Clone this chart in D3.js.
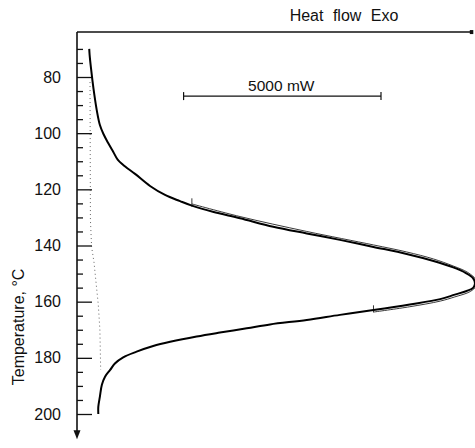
<!DOCTYPE html>
<html>
<head>
<meta charset="utf-8">
<script src="https://cdn.jsdelivr.net/npm/d3@7"></script>
<style>
  html, body { margin: 0; padding: 0; background: #fff; }
  svg { display: block; }
  text { font-family: "Liberation Sans", Arial, sans-serif; fill: #111; }
</style>
</head>
<body>
<svg id="chart" width="475" height="448"></svg>
<script>
// ---- Data (temperature in °C, heat flow in mW) ----
const measuredHeatFlow = [310, 320, 350, 390, 440, 500, 580, 670, 790, 920, 1030, 1220, 1470, 1850, 2230, 2610, 2910, 3440, 4130, 4970, 5820, 6660, 7510, 8350, 9030, 9530, 9850, 10030, 10080, 10040, 9870, 9570, 9200, 8430, 7510, 6660, 5820, 4890, 4300, 3620, 3030, 2360, 1930, 1510, 1170, 960, 840, 710, 630, 580, 540, 540];
const measuredTemp = [70.0, 72.2, 76.3, 81.1, 86.4, 91.8, 97.1, 100.3, 103.5, 106.7, 109.4, 111.9, 114.5, 118.8, 122.0, 124.2, 125.8, 128.0, 130.3, 133.3, 135.7, 138.0, 140.5, 143.0, 145.5, 147.8, 149.8, 151.6, 153.4, 155.0, 156.2, 157.5, 159.1, 161.0, 163.0, 164.7, 166.5, 168.1, 169.5, 171.0, 172.4, 174.3, 175.8, 177.8, 179.8, 182.0, 184.3, 186.7, 189.6, 193.8, 197.4, 200.0];

const fitHeatFlow = [2910, 4130, 5820, 7510, 8350, 9030, 9530, 9900, 10110, 10110, 9960, 9570, 9200, 8430, 7510];
const fitTemp = [125.2, 129.7, 135.0, 139.8, 142.3, 144.8, 147.3, 149.6, 152.3, 154.4, 156.4, 158.3, 159.8, 161.8, 163.7];

// integration limit marks: heat flow, temperature from, temperature to
const limitHeatFlow = [2910, 7510];
const limitTempFrom = [123.2, 161.3];
const limitTempTo = [126.2, 163.8];

const baselineHeatFlow = [330, 340, 370, 430, 540, 580, 600];
const baselineTemp = [81.8, 130.9, 140.5, 145.9, 161.2, 170.1, 184.3];

const majorTicks = [80, 100, 120, 140, 160, 180, 200];
const minorTicks = [70, 75, 85, 90, 95, 105, 110, 115, 125, 130, 135, 145, 150, 155, 165, 170, 175, 185, 190, 195];

const scaleBarFrom = 2700;
const scaleBarTo = 7700;
const scaleBarLabel = "5000 mW";
const topLabel = "Heat flow Exo";
const axisLabel = "Temperature, °C";
const axisTop = 64;      // temperature at top frame line
const axisBottom = 209;  // temperature at arrow tip
const barTemp = 86.8;    // temperature level of scale bar
const labelTemp = 169;   // temperature at centre of axis title

// ---- Scales ----
const svg = d3.select("#chart");
const x = d3.scaleLinear().domain([0, 10000]).range([77, 471.8]);
const y = d3.scaleLinear().domain([80, 200]).range([77, 414]);

// ---- Axes ----
const gMinor = svg.append("g").attr("transform", `translate(${x(0)},0)`)
  .call(d3.axisLeft(y).tickValues(minorTicks).tickSizeInner(-6).tickSizeOuter(0).tickFormat(""));
const gMajor = svg.append("g").attr("transform", `translate(${x(0)},0)`)
  .call(d3.axisLeft(y).tickValues(majorTicks).tickSizeInner(-15).tickSizeOuter(0).tickPadding(16));
[gMinor, gMajor].forEach(g => {
  g.select(".domain").remove();
  g.selectAll(".tick line").attr("stroke", "#111").attr("stroke-width", 1.3);
});
gMajor.selectAll(".tick text").style("font-size", "16px").attr("fill", "#111");

// vertical axis line with arrow
svg.append("line")
  .attr("x1", x(0)).attr("x2", x(0))
  .attr("y1", y(axisTop)).attr("y2", y(axisBottom) - 6)
  .attr("stroke", "#111").attr("stroke-width", 1.6);
const ab = y(axisBottom);
svg.append("path")
  .attr("d", `M${x(0) - 3.5},${ab - 9} L${x(0) + 3.5},${ab - 9} L${x(0)},${ab} Z`)
  .attr("fill", "#111");

// top line with arrow
svg.append("line")
  .attr("x1", x(0)).attr("x2", x(10000) - 1)
  .attr("y1", y(axisTop)).attr("y2", y(axisTop))
  .attr("stroke", "#111").attr("stroke-width", 1.4);
svg.append("rect")
  .attr("x", x(10000) - 2).attr("y", y(axisTop) - 2)
  .attr("width", 3.5).attr("height", 4)
  .attr("fill", "#111");

svg.append("text")
  .attr("x", 344).attr("y", 21)
  .attr("text-anchor", "middle")
  .style("font-size", "16px")
  .style("word-spacing", "5px")
  .text(topLabel);

// y label
svg.append("text")
  .attr("transform", `translate(24,${y(labelTemp)}) rotate(-90)`)
  .attr("text-anchor", "middle")
  .style("font-size", "16px")
  .text(axisLabel);

// scale bar
const by = y(barTemp);
svg.append("line")
  .attr("x1", x(scaleBarFrom)).attr("x2", x(scaleBarTo))
  .attr("y1", by).attr("y2", by)
  .attr("stroke", "#111").attr("stroke-width", 1.2);
[scaleBarFrom, scaleBarTo].forEach(v => {
  svg.append("line")
    .attr("x1", x(v)).attr("x2", x(v))
    .attr("y1", by - 4).attr("y2", by + 4)
    .attr("stroke", "#111").attr("stroke-width", 1.2);
});
svg.append("text")
  .attr("x", x((scaleBarFrom + scaleBarTo) / 2) - 1).attr("y", by - 5)
  .attr("text-anchor", "middle")
  .style("font-size", "15.5px")
  .text(scaleBarLabel);

// ---- Lines ----
const line = d3.line().x(d => x(d[0])).y(d => y(d[1])).curve(d3.curveCatmullRom.alpha(0.5));

svg.append("path")
  .datum(d3.zip(baselineHeatFlow, baselineTemp))
  .attr("d", d3.line().x(d => x(d[0])).y(d => y(d[1])))
  .attr("fill", "none").attr("stroke", "#555")
  .attr("stroke-width", 0.9).attr("stroke-dasharray", "1,3");

svg.append("path")
  .datum(d3.zip(fitHeatFlow, fitTemp))
  .attr("d", line)
  .attr("fill", "none").attr("stroke", "#222").attr("stroke-width", 0.9);

limitHeatFlow.forEach((v, i) => {
  svg.append("line")
    .attr("x1", x(v)).attr("x2", x(v))
    .attr("y1", y(limitTempFrom[i])).attr("y2", y(limitTempTo[i]))
    .attr("stroke", "#222").attr("stroke-width", 0.9);
});

svg.append("path")
  .datum(d3.zip(measuredHeatFlow, measuredTemp))
  .attr("d", line)
  .attr("fill", "none").attr("stroke", "#000")
  .attr("stroke-width", 2).attr("stroke-linejoin", "round");
</script>
</body>
</html>
